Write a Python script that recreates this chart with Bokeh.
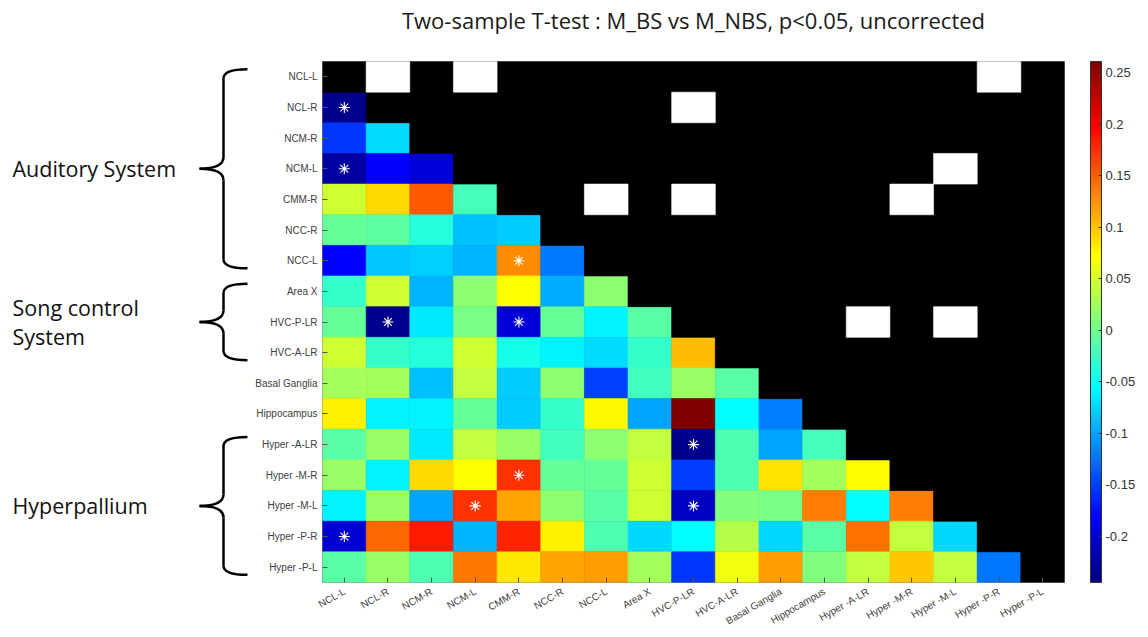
import math
import numpy as np
from bokeh.plotting import figure
from bokeh.models import Range1d, FixedTicker, ColorBar, LinearColorMapper, ColumnDataSource
from bokeh.layouts import row, column
from bokeh.core.properties import value
from bokeh.embed import file_html
from bokeh.resources import INLINE

# ---------------- data ----------------
regions = ["NCL-L", "NCL-R", "NCM-R", "NCM-L", "CMM-R", "NCC-R", "NCC-L", "Area X",
           "HVC-P-LR", "HVC-A-LR", "Basal Ganglia", "Hippocampus", "Hyper -A-LR",
           "Hyper -M-R", "Hyper -M-L", "Hyper -P-R", "Hyper -P-L"]

# lower triangle, row i holds columns 0..i-1
lower = [
    [],
    [-0.238],
    [-0.155, -0.072],
    [-0.228, -0.182, -0.200],
    [0.046, 0.091, 0.154, -0.020],
    [-0.004, -0.008, -0.036, -0.086, -0.080],
    [-0.180, -0.082, -0.077, -0.092, 0.128, -0.122],
    [-0.029, 0.046, -0.092, 0.015, 0.070, -0.095, 0.015],
    [-0.004, -0.238, -0.067, 0.005, -0.200, -0.004, -0.061, -0.010],
    [0.046, -0.029, -0.036, 0.046, -0.044, -0.061, -0.072, -0.029, 0.103],
    [0.027, 0.027, -0.086, 0.040, -0.080, 0.015, -0.149, -0.023, 0.021, -0.010],
    [0.078, -0.061, -0.061, -0.004, -0.080, -0.029, 0.075, -0.099, 0.260, -0.055, -0.118],
    [-0.010, 0.021, -0.067, 0.040, 0.021, -0.023, 0.015, 0.040, -0.238, -0.017, -0.099, -0.020],
    [0.021, -0.061, 0.091, 0.070, 0.173, -0.004, -0.004, 0.046, -0.152, -0.017, 0.084, 0.027, 0.072],
    [-0.061, 0.021, -0.099, 0.173, 0.116, 0.015, -0.010, 0.046, -0.212, 0.008, 0.005, 0.135, -0.055, 0.135],
    [-0.203, 0.145, 0.185, -0.092, 0.179, 0.078, -0.017, -0.074, -0.055, 0.034, -0.074, -0.010, 0.141, 0.040, -0.074],
    [-0.010, 0.021, -0.017, 0.137, 0.082, 0.116, 0.120, 0.027, -0.156, 0.065, 0.120, 0.008, 0.040, 0.097, 0.040, -0.124],
]

# significant pairs (p<0.05): row, column in the lower triangle
sig_rows = [1, 3, 6, 8, 8, 12, 13, 14, 14, 15]
sig_cols = [0, 0, 4, 1, 4, 8, 4, 3, 8, 0]

groups = ["Auditory System", "Song control\nSystem", "Hyperpallium"]
group_first = [0, 7, 12]
group_last = [6, 9, 16]

clim_low, clim_high = -0.245, 0.261
cb_ticks = [-0.2, -0.15, -0.1, -0.05, 0.0, 0.05, 0.1, 0.15, 0.2, 0.25]
cb_labels = ["-0.2", "-0.15", "-0.1", "-0.05", "0", "0.05", "0.1", "0.15", "0.2", "0.25"]

title_text = "Two-sample T-test : M_BS vs M_NBS, p<0.05, uncorrected"

# ---------------- palette (jet) ----------------
def jet_palette(n=256):
    out = []
    for k in range(n):
        f = k / (n - 1)
        r = min(max(1.5 - abs(4 * f - 3), 0), 1)
        g = min(max(1.5 - abs(4 * f - 2), 0), 1)
        b = min(max(1.5 - abs(4 * f - 1), 0), 1)
        out.append("#%02x%02x%02x" % (int(round(r * 255)), int(round(g * 255)), int(round(b * 255))))
    return out

mapper = LinearColorMapper(palette=jet_palette(), low=clim_low, high=clim_high)

n = len(regions)
cc, rr, vv = [], [], []
for i, vals in enumerate(lower):
    for j, v in enumerate(vals):
        rr.append(i); cc.append(j); vv.append(v)
sig_set = set(zip(sig_cols, sig_rows))  # transposed positions in the upper triangle
wx, wy, bx, by = [], [], [], []
for i in range(n):
    for j in range(i, n):
        if (i, j) in sig_set:
            wx.append(j); wy.append(i)
        else:
            bx.append(j); by.append(i)

# ---------------- layout constants ----------------
W, H = 1148, 637
W_LEFT = 250
H_TITLE = 40
FRAME_LEFT, FRAME_RIGHT_GAP = 72, 84
BORDER_TOP, BORDER_BOTTOM = 21, 55

# ---------------- title strip ----------------
tfig = figure(width=W, height=H_TITLE, x_range=Range1d(0, W), y_range=Range1d(H_TITLE, 0),
              output_backend="svg", toolbar_location=None, x_axis_type=None, y_axis_type=None,
              min_border=0)
tfig.grid.visible = False
tfig.outline_line_color = None
frame_center = W_LEFT + FRAME_LEFT + (W - W_LEFT - FRAME_LEFT - FRAME_RIGHT_GAP) / 2
tfig.text(x=[frame_center], y=[19], text=[title_text],
          text_font=value("Open Sans"), text_font_size="22px", text_color="#1a1a1a",
          text_align="center", text_baseline="middle")

# ---------------- main figure ----------------
p = figure(width=W - W_LEFT, height=H - H_TITLE,
           x_range=Range1d(-0.5, n - 0.5), y_range=Range1d(n - 0.5, -0.5),
           output_backend="svg", toolbar_location=None,
           min_border_left=FRAME_LEFT, min_border_right=FRAME_RIGHT_GAP,
           min_border_top=BORDER_TOP, min_border_bottom=BORDER_BOTTOM,
           background_fill_color="black", border_fill_color="white")

src = ColumnDataSource(dict(c=cc, r=rr, v=vv))
p.rect("c", "r", width=1, height=1, source=src,
       fill_color={"field": "v", "transform": mapper},
       line_color={"field": "v", "transform": mapper}, line_width=0.6)
p.rect(bx, by, width=1, height=1, fill_color="black", line_color="black", line_width=0.6)
p.rect(wx, wy, width=1, height=1, fill_color="white", line_color="white", line_width=0.6)
p.scatter(sig_cols, sig_rows, marker="asterisk", size=11, line_color="white", line_width=1.1)

p.grid.visible = False
p.outline_line_color = "#8a8a8a"
for ax in (p.xaxis[0], p.yaxis[0]):
    ax.ticker = FixedTicker(ticks=list(range(n)))
    ax.major_label_overrides = {i: name for i, name in enumerate(regions)}
    ax.major_label_text_font = "Liberation Sans"
    ax.major_label_text_font_size = "10px"
    ax.major_label_text_color = "#404040"
    ax.axis_line_color = None
    ax.major_tick_in = 5
    ax.major_tick_out = 0
    ax.major_tick_line_color = "#555555"
    ax.minor_tick_line_color = None
p.xaxis.major_label_orientation = math.pi / 6
p.xaxis.major_label_standoff = 8
p.yaxis.major_label_standoff = 5

cb = ColorBar(color_mapper=mapper, ticker=FixedTicker(ticks=cb_ticks),
              major_label_overrides={t: s for t, s in zip(cb_ticks, cb_labels)},
              width=11, height=521, padding=0, margin=0, location=(26, 0),
              major_label_text_font="Liberation Sans", major_label_text_font_size="13px",
              major_label_text_color="#333333",
              major_tick_line_color="#333333", major_tick_in=3, major_tick_out=0,
              minor_tick_line_color=None,
              bar_line_color="#333333", bar_line_width=1,
              border_line_color=None, background_fill_alpha=0, label_standoff=4)
p.add_layout(cb, "right")

# ---------------- left annotation figure (braces) ----------------
left = figure(width=W_LEFT, height=H - H_TITLE, x_range=Range1d(0, W_LEFT), y_range=p.y_range,
              output_backend="svg", toolbar_location=None,
              x_axis_type=None, y_axis_type=None,
              min_border_left=0, min_border_right=0,
              min_border_top=BORDER_TOP, min_border_bottom=BORDER_BOTTOM)
left.grid.visible = False
left.outline_line_color = None
left.background_fill_color = "white"

XH, XV, XT = 247, 223, 199  # hook end, vertical stem, tip (px inside the left panel)
inset, rh, rt = 0.25, 0.3, 0.38
q = dict(x0=[], y0=[], x1=[], y1=[], cx=[], cy=[])
s = dict(x0=[], y0=[], x1=[], y1=[])
mids = []
for g0, g1 in zip(group_first, group_last):
    top = g0 - 0.5 + inset
    bot = g1 + 0.5 - inset
    mid = (g0 + g1) / 2
    mids.append(mid)
    for a, b_, c in [((XH, top), (XV, top + rh), (XV, top)),
                     ((XV, mid - rt), (XT, mid), (XV, mid)),
                     ((XT, mid), (XV, mid + rt), (XV, mid)),
                     ((XV, bot - rh), (XH, bot), (XV, bot))]:
        q["x0"].append(a[0]); q["y0"].append(a[1])
        q["x1"].append(b_[0]); q["y1"].append(b_[1])
        q["cx"].append(c[0]); q["cy"].append(c[1])
    for a, b_ in [((XV, top + rh), (XV, mid - rt)), ((XV, mid + rt), (XV, bot - rh))]:
        s["x0"].append(a[0]); s["y0"].append(a[1])
        s["x1"].append(b_[0]); s["y1"].append(b_[1])

left.quadratic(x0="x0", y0="y0", x1="x1", y1="y1", cx="cx", cy="cy",
               source=ColumnDataSource(q), line_color="black", line_width=2.5)
left.segment(x0="x0", y0="y0", x1="x1", y1="y1",
             source=ColumnDataSource(s), line_color="black", line_width=2.5)
left.text(x=[12] * len(groups), y=mids, text=groups,
          text_font=value("Open Sans"), text_font_size="21.5px",
          text_color="#111111", text_align="left", text_baseline="middle",
          text_line_height=1.02)

layout = column(tfig, row(left, p))
with open("out.html", "w") as fh:
    fh.write(file_html(layout, INLINE))
